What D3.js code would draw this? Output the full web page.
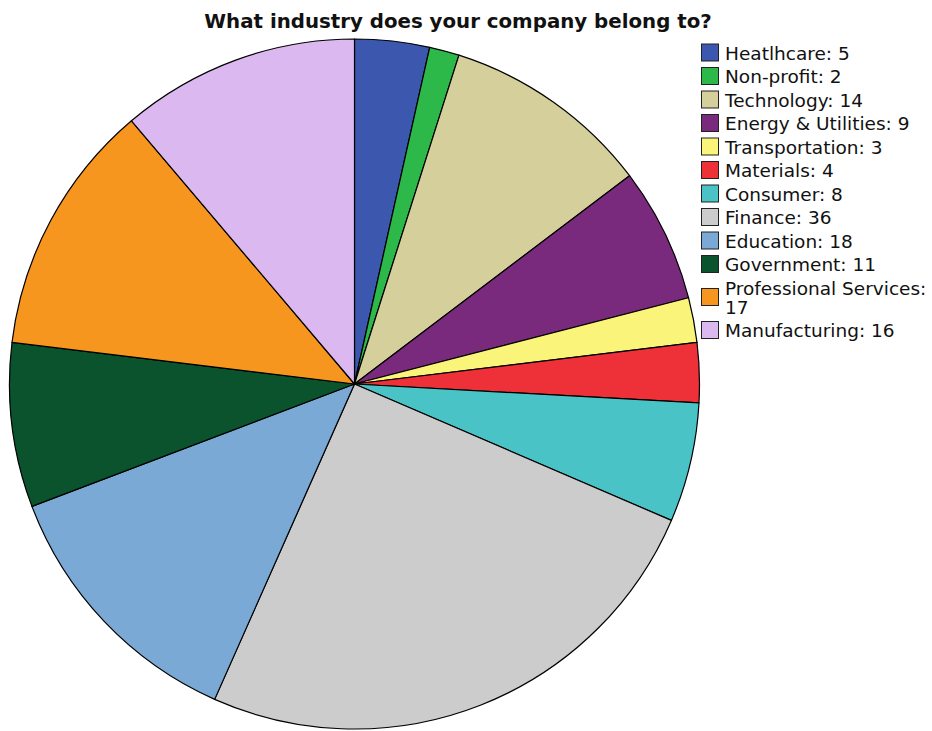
<!DOCTYPE html>
<html>
<head>
<meta charset="utf-8">
<script src="https://cdn.jsdelivr.net/npm/d3@7"></script>
<style>
  html, body { margin: 0; padding: 0; background: #fff; }
  svg { display: block; }
</style>
</head>
<body>
<svg id="chart" width="932" height="731"></svg>
<script>
// Survey answers: industry of the respondent's company
const categories = ["Heatlhcare", "Non-profit", "Technology", "Energy & Utilities",
  "Transportation", "Materials", "Consumer", "Finance", "Education",
  "Government", "Professional Services", "Manufacturing"];
const counts = [5, 2, 14, 9, 3, 4, 8, 36, 18, 11, 17, 16];
const colors = ["#3b57ae", "#2db84a", "#d4cf9b", "#7a2a7d", "#faf57a", "#ee3139",
  "#4ac3c7", "#cccccc", "#7aa9d6", "#0a532c", "#f7961f", "#dcb8f1"];
// Legend entries that wrap onto a second line
const legendLines = categories.map((c, i) =>
  c === "Professional Services" ? [c + ":", String(counts[i])] : [c + ": " + counts[i]]);

const svg = d3.select("#chart");

svg.append("text")
  .attr("x", 458).attr("y", 28)
  .attr("text-anchor", "middle")
  .style("font-family", "'DejaVu Sans', sans-serif")
  .style("font-weight", "bold")
  .style("font-size", "19.8px")
  .attr("fill", "#111")
  .text("What industry does your company belong to?");

const data = categories.map((c, i) => ({ name: c, value: counts[i], color: colors[i] }));

const pie = d3.pie().sort(null).value(d => d.value);
const radius = 345;
const arc = d3.arc().innerRadius(0).outerRadius(radius);

const g = svg.append("g").attr("transform", "translate(354.5,384)");
g.selectAll("path")
  .data(pie(data))
  .join("path")
  .attr("d", arc)
  .attr("fill", d => d.data.color)
  .attr("stroke", "#000")
  .attr("stroke-width", 1.2)
  .attr("stroke-linejoin", "round");

// Legend
const legend = svg.append("g")
  .style("font-family", "'DejaVu Sans', sans-serif")
  .style("font-size", "18.5px");
const pitch = 23.5, lineH = 19;
let baseline = 59.5;
data.forEach((d, i) => {
  const lines = legendLines[i];
  const swatchY = baseline + (lines.length - 1) * lineH / 2 - 15.5;
  legend.append("rect")
    .attr("x", 701.5).attr("y", swatchY)
    .attr("width", 17).attr("height", 17)
    .attr("fill", d.color)
    .attr("stroke", "#222").attr("stroke-width", 1);
  const t = legend.append("text").attr("x", 725).attr("y", baseline).attr("fill", "#111");
  lines.forEach((ln, k) => {
    t.append("tspan").attr("x", 725).attr("dy", k === 0 ? 0 : lineH).text(ln);
  });
  baseline += pitch + (lines.length - 1) * lineH;
});
</script>
</body>
</html>
